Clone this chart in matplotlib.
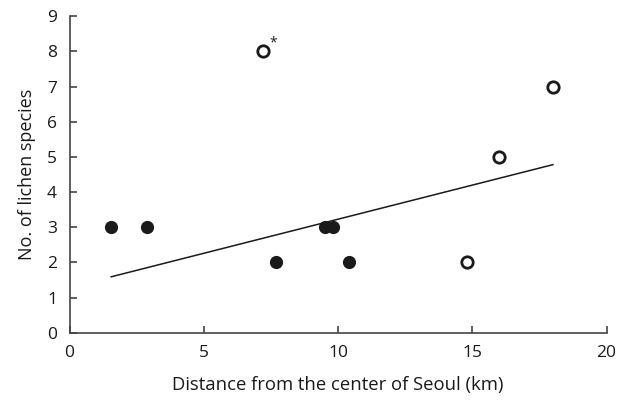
import matplotlib
matplotlib.use("Agg")
import matplotlib.pyplot as plt

plt.rcParams['font.family'] = ['Open Sans', 'DejaVu Sans']

filled_x = [1.55, 2.9, 7.7, 9.5, 9.8, 10.4]
filled_y = [3, 3, 2, 3, 3, 2]
open_x = [7.2, 14.8, 16.0, 18.0]
open_y = [8, 2, 5, 7]
line_x = [1.55, 18.0]
line_y = [1.59, 4.78]
x_ticks = [0, 5, 10, 15, 20]
y_ticks = [0, 1, 2, 3, 4, 5, 6, 7, 8, 9]

fig = plt.figure(figsize=(6.19, 4.01), dpi=100)
ax = fig.add_axes([0.1123, 0.1703, 0.8677, 0.7891])

ax.plot(line_x, line_y, color='#1a1a1a', lw=1.1, zorder=2)
ax.plot(filled_x, filled_y, 'o', color='#1a1a1a', ms=9.5, mew=0, zorder=3)
ax.plot(open_x, open_y, 'o', mfc='white', mec='#1a1a1a', ms=8.2, mew=2.0, zorder=3)
ax.annotate('*', xy=(open_x[0], open_y[0]), xytext=(5, 1), textcoords='offset points',
            fontsize=10, color='#1a1a1a', ha='left', va='bottom')

ax.set_xlim(0, 20)
ax.set_ylim(0, 9)
ax.set_xticks(x_ticks)
ax.set_yticks(y_ticks)
for s in ['top', 'right']:
    ax.spines[s].set_visible(False)
for s in ['left', 'bottom']:
    ax.spines[s].set_color('#444444')
    ax.spines[s].set_linewidth(1.2)
ax.tick_params(direction='in', length=5, width=1.2, color='#444444',
               labelsize=12.5, labelcolor='#1a1a1a', pad=9)
ax.set_xlabel('Distance from the center of Seoul (km)', fontsize=13.3, color='#1a1a1a', labelpad=11)
ax.set_ylabel('No. of lichen species', fontsize=13.0, color='#1a1a1a', labelpad=8)

fig.savefig('out.png', dpi=100)
